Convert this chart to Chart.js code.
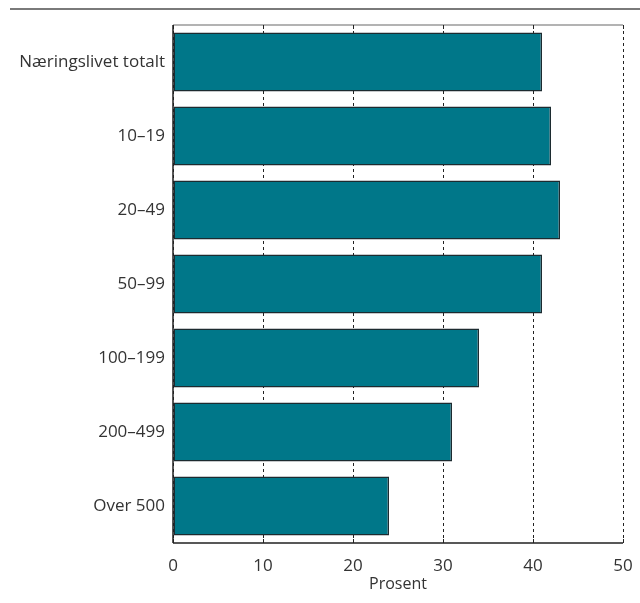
<html>
<head>
<meta charset="utf-8">
<title>Næringslivet etter størrelse</title>
<style>
  body { margin: 0; background: #fff; }
  #wrap { width: 640px; height: 603px; position: relative; }
</style>
</head>
<body>
<div id="wrap"><canvas id="myChart"></canvas></div>
<script src="https://cdn.jsdelivr.net/npm/chart.js@4"></script>
<script>
  // categories, top to bottom
  var groups = ["Næringslivet totalt", "10–19", "20–49", "50–99", "100–199", "200–499", "Over 500"];
  // share in percent for each group
  var shares = [41, 42, 43, 41, 34, 31, 24];
  var xTicks = [0, 10, 20, 30, 40, 50];

  var fontFamily = "'Open Sans', 'Noto Sans', sans-serif";

  // header rule, top frame line and the small inward ticks
  var framePlugin = {
    id: 'frame',
    afterDraw: function(chart) {
      var ctx = chart.ctx;
      var area = chart.chartArea;
      var xs = chart.scales.x;
      ctx.save();
      ctx.setLineDash([]);
      ctx.strokeStyle = '#7a7a7a';
      ctx.lineWidth = 2;
      ctx.beginPath();
      ctx.moveTo(10, 9);
      ctx.lineTo(640, 9);
      ctx.stroke();

      ctx.strokeStyle = '#9a9a9a';
      ctx.lineWidth = 1.5;
      ctx.beginPath();
      ctx.moveTo(area.left, area.top);
      ctx.lineTo(area.right, area.top);
      ctx.stroke();

      // solid bottom axis line and left axis line
      ctx.strokeStyle = '#222';
      ctx.lineWidth = 1.5;
      ctx.beginPath();
      ctx.moveTo(area.left, area.bottom);
      ctx.lineTo(area.right, area.bottom);
      ctx.moveTo(area.left, area.top);
      ctx.lineTo(area.left, area.bottom);
      ctx.stroke();

      ctx.lineWidth = 1;
      xTicks.forEach(function(v) {
        var px = Math.round(xs.getPixelForValue(v)) + 0.5;
        ctx.beginPath();
        ctx.moveTo(px, area.top);
        ctx.lineTo(px, area.top + 4);
        ctx.moveTo(px, area.bottom);
        ctx.lineTo(px, area.bottom - 4);
        ctx.stroke();
      });
      ctx.restore();
    }
  };

  var ctx = document.getElementById('myChart').getContext('2d');
  var chart = new Chart(ctx, {
    type: 'bar',
    data: {
      labels: groups,
      datasets: [{
        data: shares,
        backgroundColor: 'rgb(0,119,137)',
        borderColor: '#1c2b30',
        borderWidth: 1.5,
        borderSkipped: false,
        barPercentage: 0.8,
        categoryPercentage: 1.0
      }]
    },
    options: {
      indexAxis: 'y',
      responsive: true,
      maintainAspectRatio: false,
      animation: false,
      layout: { padding: { top: 25, right: 17, left: 0, bottom: 0 } },
      plugins: {
        legend: { display: false },
        tooltip: { enabled: false }
      },
      scales: {
        x: {
          min: 0,
          max: 50,
          ticks: {
            stepSize: 10,
            padding: 13,
            color: '#333',
            font: { family: fontFamily, size: 17 }
          },
          grid: {
            color: '#222',
            lineWidth: 1,
            drawTicks: false
          },
          // dashed vertical grid lines
          border: { display: false, dash: [3, 3] },
          title: {
            display: true,
            text: 'Prosent',
            color: '#333',
            padding: { top: 0, bottom: 9 },
            font: { family: fontFamily, size: 16 }
          },
          afterFit: function(scale) {
            scale.height = 60;
            scale.paddingLeft = 0;
            scale.paddingRight = 0;
          }
        },
        y: {
          ticks: {
            padding: 8,
            color: '#333',
            font: { family: fontFamily, size: 17 }
          },
          grid: { display: false, drawTicks: false },
          border: { display: false },
          afterFit: function(scale) { scale.width = 173; }
        }
      }
    },
    plugins: [framePlugin]
  });
</script>
</body>
</html>
